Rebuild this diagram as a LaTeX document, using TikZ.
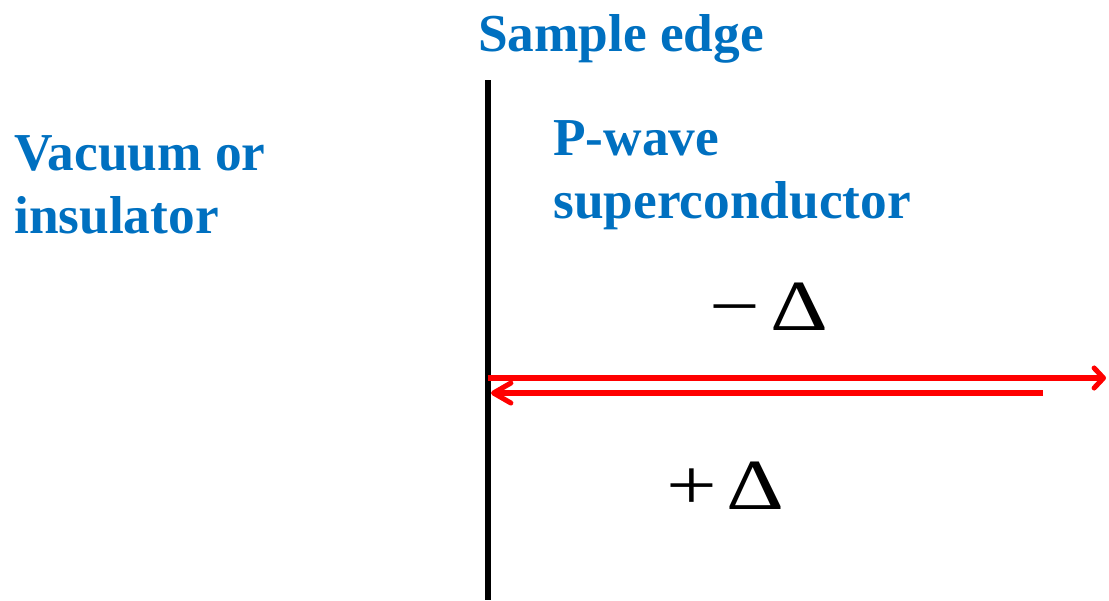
\documentclass[tikz,border=0pt]{standalone}
\usepackage{graphicx}
\usepackage{fontspec}
\setmainfont{Liberation Serif}
\usetikzlibrary{arrows.meta}
\definecolor{pptblue}{RGB}{0,112,192}
\tikzset{
  label/.style={inner sep=0pt,font=\fontsize{40}{47}\selectfont\bfseries,text=pptblue,align=left},
  gap/.style={inner sep=0pt,font=\fontsize{54}{60}\selectfont},
  flow/.style={red,line width=3.8pt}
}
\newcommand{\widegap}[1]{\scalebox{1.25}[1]{#1}}
\begin{document}
\begin{tikzpicture}[x=0.75pt,y=-0.75pt]
  \useasboundingbox (0,0) rectangle (1109,600);
  \coordinate (edgetop) at (488,80);
  \coordinate (edgebot) at (488,600);
  \draw[line width=3.8pt] (edgetop) -- (edgebot);
  \node[label,anchor=base] (edge) at (621,51) {Sample edge};
  \node[label,anchor=base west] (vacuum) at (14,233) {Vacuum or\\insulator};
  \node[label,anchor=base west] (pwave) at (553,218) {P-wave\\superconductor};
  \node[gap,anchor=base west] (minusgap) at (709,330) {\widegap{−\hspace{0.12em}Δ}};
  \node[gap,anchor=base west] (plusgap) at (666,509) {\widegap{+\hspace{0.1em}Δ}};
  % reflected path at the edge
  \coordinate (outstart) at (488,378);
  \coordinate (outend) at (1106,378);
  \coordinate (backstart) at (1043,393);
  \coordinate (backend) at (491,393);
  \draw[flow,-{Straight Barb[length=7pt,width=15pt,round]}] (outstart) -- (outend);
  \draw[flow,-{Straight Barb[length=13pt,width=15pt,round]}] (backstart) -- (backend);
\end{tikzpicture}
\end{document}
